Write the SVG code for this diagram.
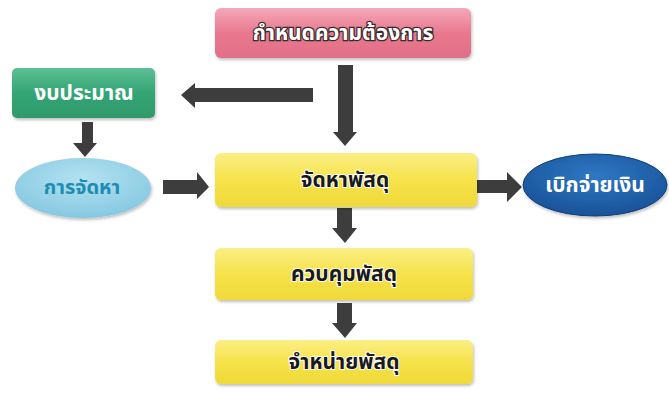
<svg xmlns="http://www.w3.org/2000/svg" width="669" height="393" viewBox="0 0 669 393">
<defs>
<linearGradient id="gPink" x1="0" y1="0" x2="0" y2="1"><stop offset="0" stop-color="#f4a9b8"/><stop offset="0.5" stop-color="#e9788f"/><stop offset="1" stop-color="#e06f87"/></linearGradient>
<linearGradient id="gGreen" x1="0" y1="0" x2="0" y2="1"><stop offset="0" stop-color="#5cc096"/><stop offset="0.5" stop-color="#34a574"/><stop offset="1" stop-color="#2f9a6b"/></linearGradient>
<linearGradient id="gYellow" x1="0" y1="0" x2="0" y2="1"><stop offset="0" stop-color="#fbef86"/><stop offset="0.5" stop-color="#f6e24a"/><stop offset="1" stop-color="#efd93a"/></linearGradient>
<radialGradient id="gLBlue" cx="0.5" cy="0.35" r="0.7"><stop offset="0" stop-color="#b4e2f1"/><stop offset="1" stop-color="#82c6e0"/></radialGradient>
<radialGradient id="gBlue" cx="0.5" cy="0.35" r="0.7"><stop offset="0" stop-color="#2f78c4"/><stop offset="1" stop-color="#164f95"/></radialGradient>
<filter id="sh" x="-10%" y="-20%" width="120%" height="150%"><feDropShadow dx="1" dy="2" stdDeviation="1.5" flood-color="#000" flood-opacity="0.25"/></filter>
</defs>
<style>
text{font-family:"Noto Sans Thai","Noto Sans Thai UI","Loma","Garuda","Tlwg Typo","DejaVu Sans",sans-serif;font-size:21px;font-weight:bold;text-anchor:middle;dominant-baseline:central}
.wo{fill:#ffffff;stroke:#3a2a2a;stroke-width:2.5;paint-order:stroke}
.w{fill:#ffffff}
.y{fill:#1a1a1a;stroke:#ffffff;stroke-width:2;paint-order:stroke}
.t{fill:#1d8db3}
.arr{fill:#3d3d3d}
</style>
<g id="connectors">
<path class="arr" d="M338,65 H353 V132 H357 L345,146 L333,132 H338 Z"/>
<path class="arr" d="M313,88 V102 H195 V108 L181,95 L195,83 V88 Z"/>
<path class="arr" d="M82,122 H93 V143 H97 L85,157 L73,143 H82 Z"/>
<path class="arr" d="M163,180 H197 V172 L209,187 L197,199 V194 H163 Z"/>
<path class="arr" d="M337,208 H352 V228 H357 L345,243 L332,228 H337 Z"/>
<path class="arr" d="M337,303 H352 V323 H357 L345,338 L332,323 H337 Z"/>
<path class="arr" d="M475,180 H507 V172 L522,187 L507,202 V193 H475 Z"/>
</g>
<g id="n-define">
<rect x="215" y="8" width="256" height="50" rx="6" fill="url(#gPink)" filter="url(#sh)"/>
<text class="wo" x="343" y="33">กำหนดความต้องการ</text>
</g>
<g id="n-budget">
<rect x="12" y="68" width="143" height="50" rx="5" fill="url(#gGreen)" filter="url(#sh)"/>
<text class="w" x="84" y="93">งบประมาณ</text>
</g>
<g id="n-procure">
<ellipse cx="83" cy="188" rx="68" ry="30" fill="url(#gLBlue)" filter="url(#sh)"/>
<text class="t" x="82" y="188" style="font-size:20px">การจัดหา</text>
</g>
<g id="n-acquire">
<rect x="215" y="153" width="262" height="54" rx="6" fill="url(#gYellow)" filter="url(#sh)"/>
<text class="y" x="345" y="180">จัดหาพัสดุ</text>
</g>
<g id="n-control">
<rect x="215" y="248" width="258" height="52" rx="6" fill="url(#gYellow)" filter="url(#sh)"/>
<text class="y" x="344" y="274">ควบคุมพัสดุ</text>
</g>
<g id="n-dispose">
<rect x="215" y="340" width="258" height="44" rx="6" fill="url(#gYellow)" filter="url(#sh)"/>
<text class="y" x="344" y="362">จำหน่ายพัสดุ</text>
</g>
<g id="n-disburse">
<ellipse cx="595" cy="185" rx="72" ry="31" fill="url(#gBlue)" stroke="#123f78" stroke-width="1" filter="url(#sh)"/>
<text class="w" x="595" y="185">เบิกจ่ายเงิน</text>
</g>
</svg>
